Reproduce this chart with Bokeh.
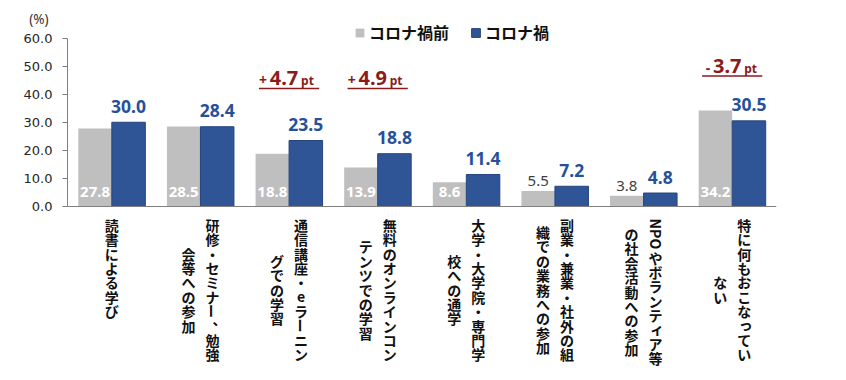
import re, math
from bokeh.plotting import figure
from bokeh.models import (ColumnDataSource, FactorRange, Range1d, FixedTicker, LinearAxis,
                          NumeralTickFormatter, Span, Legend, LegendItem)
from bokeh.transform import dodge
from bokeh.core.properties import value
from bokeh.embed import file_html
from bokeh.resources import INLINE

# ---------------- data ----------------
label_lines = [
    ["読書による学び"],
    ["研修・セミナー、勉強", "会等への参加"],
    ["通信講座・eラーニン", "グでの学習"],
    ["無料のオンラインコン", "テンツでの学習"],
    ["大学・大学院・専門学", "校への通学"],
    ["副業・兼業・社外の組", "織での業務への参加"],
    ["NPOやボランティア等", "の社会活動への参加"],
    ["特に何もおこなってい", "ない"],
]
categories = ["".join(l) for l in label_lines]
before = [27.8, 28.5, 18.8, 13.9, 8.6, 5.5, 3.8, 34.2]
during = [30.0, 28.4, 23.5, 18.8, 11.4, 7.2, 4.8, 30.5]
highlight = [2, 3, 7]
series_names = ["コロナ禍前", "コロナ禍"]
y_ticks = [0, 10, 20, 30, 40, 50, 60]
y_unit = "(%)"

# ---------------- style / layout ----------------
W, H = 846, 380
LEFT, RIGHT = 67, 70
AXIS_PX = 206            # px from figure top down to y=0
PX = 168.5 / 60          # px per data unit
UNIT_Y = (AXIS_PX - 18) / PX
GRAY, BLUE = "#BFBFBF", "#2F5597"
BLUE_TXT = "#27509B"
RED = "#8B1A1A"
CJK = "Noto Sans CJK JP"
LAT = "Noto Sans"
BW = 0.378
OFF = 0.189

p = figure(x_range=FactorRange(*categories),
           y_range=Range1d(-(H - AXIS_PX) / PX, AXIS_PX / PX),
           width=W, height=H, output_backend="svg", toolbar_location=None,
           x_axis_location=None, min_border_left=LEFT, min_border_right=RIGHT,
           min_border_top=0, min_border_bottom=0)
p.outline_line_color = None
p.xgrid.visible = False
p.ygrid.visible = False

ya = p.yaxis[0]
ya.bounds = (y_ticks[0], y_ticks[-1])
ya.ticker = FixedTicker(ticks=y_ticks)
ya.formatter = NumeralTickFormatter(format="0.0")
ya.major_label_text_font = "DejaVu Sans"
ya.major_label_text_font_size = "13px"
ya.major_label_text_color = "#262626"
ya.axis_line_color = "#7f7f7f"
ya.major_tick_line_color = "#7f7f7f"
ya.major_tick_out = 5
ya.major_tick_in = 0
ya.minor_tick_line_color = None
ya.major_label_standoff = 10

# unit label "(%)" as a bare outer axis label
ua = LinearAxis(ticker=FixedTicker(ticks=[UNIT_Y]),
                major_label_overrides={UNIT_Y: y_unit},
                axis_line_color=None, major_tick_line_color=None,
                minor_tick_line_color=None, major_tick_out=0, major_tick_in=0,
                major_label_standoff=-28, major_label_text_font=LAT,
                major_label_text_font_size="13.5px", major_label_text_color="#333333")
p.add_layout(ua, "left")

p.add_layout(Span(location=0, dimension="width", line_color="#7f7f7f", line_width=1))

src = ColumnDataSource(dict(cat=categories, before=before, during=during,
                            during_txt=[f"{v:.1f}" for v in during]))
gray = p.vbar(x=dodge("cat", -OFF, range=p.x_range), top="before", width=BW,
              source=src, fill_color=GRAY, line_color=None)
blue = p.vbar(x=dodge("cat", OFF, range=p.x_range), top="during", width=BW,
              source=src, fill_color=BLUE, line_color="#24457F", line_width=1)

# value labels
p.text(x=dodge("cat", OFF, range=p.x_range), y="during", text="during_txt", source=src,
       text_align="center", text_baseline="middle", y_offset=-16,
       text_font=value(LAT), text_font_style="bold", text_font_size="17.5px",
       text_color=BLUE_TXT)

inside = [i for i, v in enumerate(before) if v >= 8]
outside = [i for i, v in enumerate(before) if v < 8]
src_in = ColumnDataSource(dict(cat=[categories[i] for i in inside],
                               y=[0] * len(inside),
                               t=[f"{before[i]:.1f}" for i in inside]))
src_out = ColumnDataSource(dict(cat=[categories[i] for i in outside],
                                y=[before[i] for i in outside],
                                t=[f"{before[i]:.1f}" for i in outside]))
p.text(x=dodge("cat", -OFF, range=p.x_range), y="y", text="t", source=src_in,
       text_align="center", text_baseline="middle", y_offset=-14.5,
       text_font=value(LAT), text_font_style="bold", text_font_size="15px",
       text_color="white")
p.text(x=dodge("cat", -OFF, range=p.x_range), y="y", text="t", source=src_out,
       text_align="center", text_baseline="middle", y_offset=-10,
       text_font=value(LAT), text_font_size="15px", text_color="#404040")

# vertical (tategaki) category labels
PITCH = 14.4
TOP = 11
COL = 12
SMALL = set("ァィゥェォッャュョぁぃぅぇぉっゃゅょ")
lab = dict(cat=[], y=[], t=[], a=[], xo=[], yo=[])
for cat, lines in zip(categories, label_lines):
    unit_lists = []
    for line in lines:
        units = []
        for u in re.findall(r"[A-Z]{2,}|.", line):
            units.append((u, len(u) * 0.76 if len(u) > 1 else 1.0))
        unit_lists.append(units)
    heights = [sum(h for _, h in us) for us in unit_lists]
    maxh = max(heights)
    n = len(lines)
    for j, us in enumerate(unit_lists):
        colx = (n - 1 - 2 * j) * COL
        cur = (maxh - heights[j]) / 2
        for u, h in us:
            c = TOP + (cur + h / 2) * PITCH
            cur += h
            ang, xo, yo = 0.0, colx, 0.0
            if len(u) > 1 or u == "ー":
                ang = -math.pi / 2
            elif u == "、":
                xo += 7; yo -= 7
            elif u in SMALL:
                xo += 1.5; yo -= 1.5
            lab["cat"].append(cat); lab["y"].append(-c / PX); lab["t"].append(u)
            lab["a"].append(ang); lab["xo"].append(xo); lab["yo"].append(yo)
p.text(x="cat", y="y", text="t", angle="a", x_offset="xo", y_offset="yo",
       source=ColumnDataSource(lab), text_align="center", text_baseline="middle",
       text_font=value(CJK), text_font_style="bold", text_font_size="14px",
       text_color="#111111")

# difference annotations
ann = dict(x=[], y=[], yl=[], x0=[], x1=[], num=[], sign=[])
for i in highlight:
    d = during[i] - before[i]
    yy = max(43.1, max(before[i], during[i]) + 13.3)
    ann["x"].append(i + 0.5); ann["y"].append(yy); ann["yl"].append(yy - 3 / PX)
    ann["x0"].append(i + 0.5 - 0.34); ann["x1"].append(i + 0.5 + 0.34)
    ann["num"].append(f"{abs(d):.1f}"); ann["sign"].append("+" if d > 0 else "-")
asrc = ColumnDataSource(ann)
p.text(x="x", y="y", text="num", source=asrc, x_offset=-5, y_offset=-7,
       text_align="center", text_baseline="middle", text_font=value(LAT),
       text_font_style="bold", text_font_size="20px", text_color=RED)
p.text(x="x", y="y", text="sign", source=asrc, x_offset=-22, y_offset=-5,
       text_align="right", text_baseline="middle", text_font=value(LAT),
       text_font_style="bold", text_font_size="14px", text_color=RED)
p.text(x="x", y="y", text=value("pt"), source=asrc, x_offset=12, y_offset=-4.7,
       text_align="left", text_baseline="middle", text_font=value(LAT),
       text_font_style="bold", text_font_size="12px", text_color=RED)
p.segment(x0="x0", x1="x1", y0="yl", y1="yl", source=asrc, line_color=RED, line_width=1.5)

# legend
legend = Legend(items=[LegendItem(label=series_names[0], renderers=[gray]),
                       LegendItem(label=series_names[1], renderers=[blue])],
                orientation="horizontal", location=(287, 336),
                glyph_width=11, glyph_height=11, label_standoff=4, spacing=21,
                padding=0, margin=0, border_line_color=None,
                background_fill_alpha=0, label_text_font=CJK,
                label_text_font_size="16px", label_text_font_style="bold",
                label_text_color="#111111", label_height=20)
p.add_layout(legend)

open("out.html", "w").write(file_html(p, INLINE))
